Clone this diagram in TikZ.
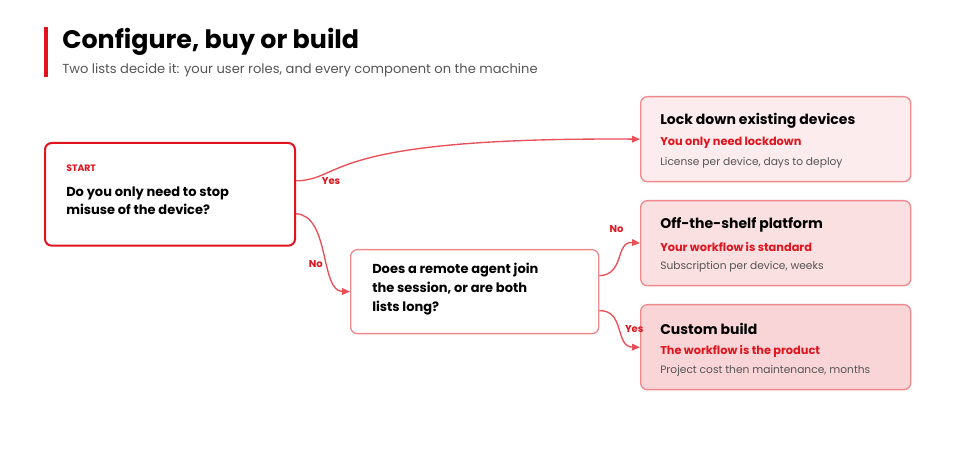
\documentclass[tikz,border=0pt]{standalone}
\usepackage{fontspec}
\setmainfont{Poppins}
\usetikzlibrary{positioning,arrows.meta,calc}
\definecolor{brand}{HTML}{E0141E}
\definecolor{edge}{HTML}{EE8A8C}
\definecolor{greytxt}{HTML}{555555}
\begin{document}
\begin{tikzpicture}[
    x=0.75pt, y=-0.75pt,
    question/.style={rectangle, draw, rounded corners=5pt, align=left, anchor=north west, text width=#1, inner sep=0pt, fill=white},
    outcome/.style={rectangle, draw=edge, line width=1pt, rounded corners=5pt, minimum width=202.5pt, minimum height=63.75pt, anchor=north west},
    arrow/.style={-{Triangle[length=6pt,width=5pt]}, draw=brand!75, line width=1pt},
    label/.style={font=\fontsize{7.5}{9}\selectfont\bfseries, text=brand}
]
\useasboundingbox (0,0) rectangle (954,463);

% Title
\fill[brand] (44,27) rectangle (48,77);
\node[anchor=west, font=\fontsize{19}{21}\selectfont\bfseries, inner sep=0pt] (title) at (62,42) {Configure, buy or build};
\node[anchor=west, font=\fontsize{9.8}{11}\selectfont, text=greytxt, inner sep=0pt] (subtitle) at (62,70) {Two lists decide it: your user roles, and every component on the machine};

% Questions
\node[question=187.5pt, draw=brand, line width=1.5pt, minimum width=187.5pt, minimum height=77pt] (start) at (44,142) {};
\node[anchor=west, inner sep=0pt, label, font=\fontsize{7}{8}\selectfont\bfseries] (startlbl) at (66,168) {START};
\node[anchor=north west, align=left, inner sep=0pt, font=\fontsize{9.75}{13.5}\selectfont\bfseries] (q1) at (66,187) {Do you only need to stop\\misuse of the device?};
\node[question=186pt, draw=edge, line width=1pt, minimum width=186pt, minimum height=63pt] (remote) at (350,249) {};
\node[anchor=north west, align=left, inner sep=0pt, font=\fontsize{9.75}{14.2}\selectfont\bfseries] (q2) at (372,263) {Does a remote agent join\\the session, or are both\\lists long?};

% Outcomes
\node[outcome, fill=brand!8] (lock) at (640,96) {};
\node[outcome, fill=brand!13] (shelf) at (640,200) {};
\node[outcome, fill=brand!18] (custom) at (640,304) {};
\foreach \card/\head/\why/\cost in {
    lock/Lock down existing devices/You only need lockdown/{License per device, days to deploy},
    shelf/Off-the-shelf platform/Your workflow is standard/{Subscription per device, weeks},
    custom/Custom build/The workflow is the product/{Project cost then maintenance, months}} {
  \node[anchor=west, inner sep=0pt, font=\fontsize{10.5}{12}\selectfont\bfseries] at ($(\card.north west)+(20,25)$) {\head};
  \node[anchor=west, inner sep=0pt, font=\fontsize{8.5}{10}\selectfont\bfseries, text=brand] at ($(\card.north west)+(20,47)$) {\why};
  \node[anchor=west, inner sep=0pt, font=\fontsize{8}{10}\selectfont, text=greytxt] at ($(\card.north west)+(20,67)$) {\cost};
}

% Connectors
\draw[arrow] ($(start.east)+(0,-13.5)$) .. controls (345,180) and (320,137) .. node[label, pos=0.2, below right, inner sep=1pt] {Yes} (lock.west);
\draw[arrow] ($(start.east)+(0,19.5)$) .. controls (330,215) and (320,291) .. node[label, pos=0.6, left] {No} (remote.west);
\draw[arrow] ($(remote.east)+(0,-16)$) .. controls (625,275) and (615,241) .. node[label, pos=0.8, above left, yshift=6pt] {No} (shelf.west);
\draw[arrow] ($(remote.east)+(0,19)$) .. controls (625,310) and (615,347) .. node[label, pos=0.5, right] {Yes} (custom.west);
\end{tikzpicture}
\end{document}
